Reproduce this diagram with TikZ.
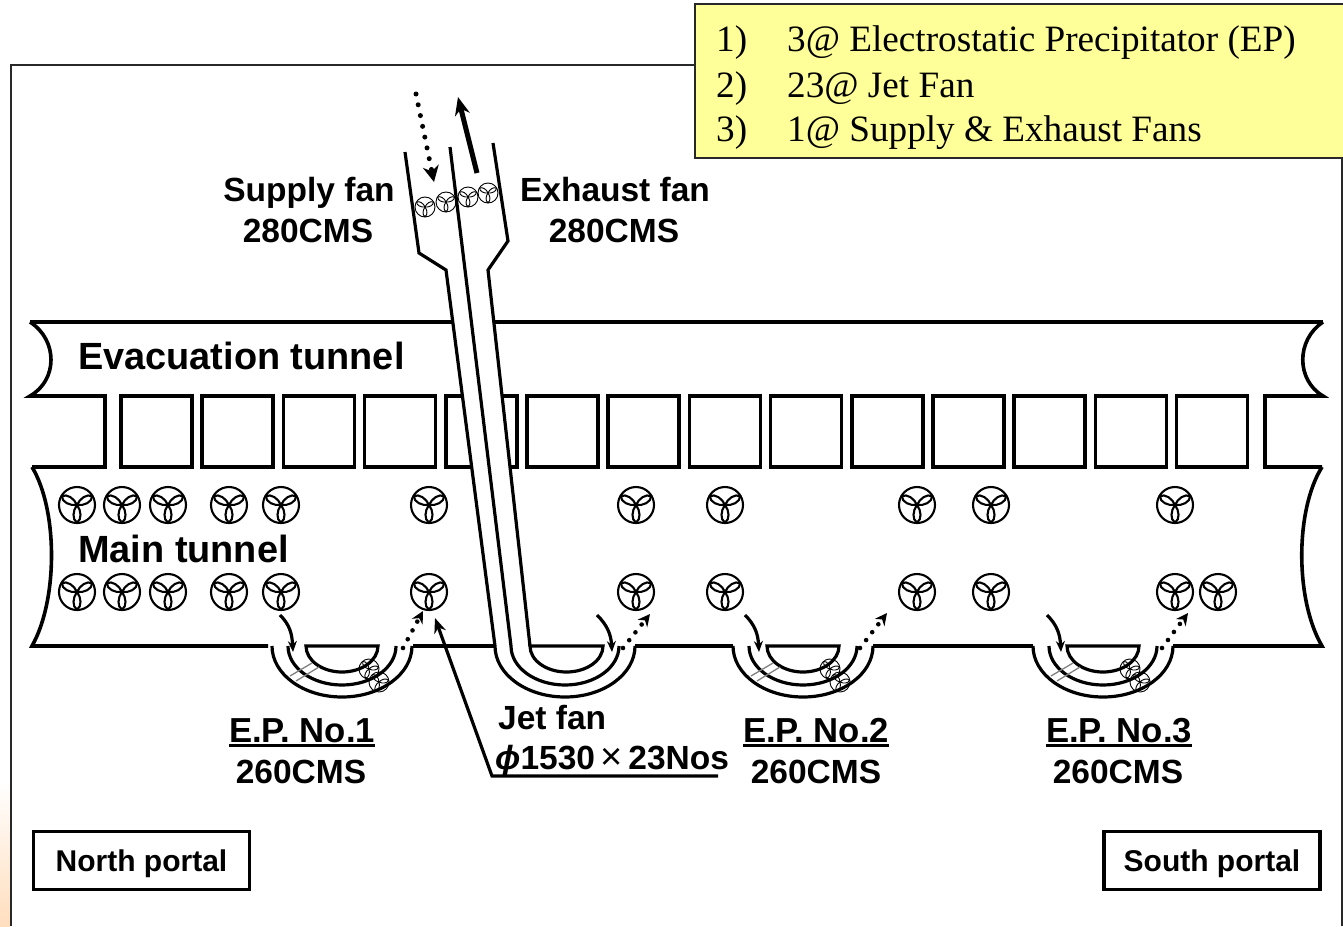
\documentclass[tikz,border=0pt]{standalone}
\usepackage{xcolor}
\usepackage{fontspec}
\usetikzlibrary{arrows.meta}
\setmainfont{Liberation Sans}
\newfontfamily\notefont{Liberation Serif}
\definecolor{noteyellow}{RGB}{255, 255, 153}
\definecolor{framegray}{RGB}{40, 40, 40}
\definecolor{cornerpeach}{RGB}{255, 222, 190}
\begin{document}
\begin{tikzpicture}[
  x=1pt, y=-1pt,
  wall/.style={line width=3.6pt, line join=miter},
  thinwall/.style={line width=3.2pt},
  sealine/.style={line width=1.3pt, gray},
  bigfan/.style={scale=18, line width=2.1pt},
  smallfan/.style={scale=10, line width=.9pt},
  bigtext/.style={font=\fontsize{37.9}{40}\selectfont\bfseries, inner sep=0pt, anchor=base west},
  fanlabel/.style={font=\fontsize{33.5}{36}\selectfont\bfseries, inner sep=0pt, anchor=base},
  portal/.style={draw, line width=3.6pt, minimum width=216pt, minimum height=58pt, inner sep=0pt,
                 font=\fontsize{30}{32}\selectfont\bfseries, text height=22pt, text depth=1pt},
  note/.style={font=\notefont\fontsize{37.2}{40}\selectfont, inner sep=0pt, anchor=base west},
  flowin/.style={-{Stealth[length=11pt, width=9pt]}, line width=3.2pt},
  flowout/.style={-{Stealth[length=12pt, width=12pt]}, line width=4.6pt, line cap=round, dash pattern=on 0pt off 10pt},
  pics/fan/.style={code={
    \draw (0,0) circle[radius=1];
    \foreach \a in {270,30,150}
      \draw[rotate=\a] (0,0) .. controls (.30,.24) and (.82,.28) .. (.97,0)
                             .. controls (.82,-.28) and (.30,-.24) .. (0,0);
  }}
]
  \useasboundingbox (0,0) rectangle (1343,926);

  % outer frame
  \shade[top color=white, bottom color=cornerpeach] (0,780) rectangle (10,926);
  \draw[framegray, line width=2pt] (10.5,926) -- (10.5,65) -- (1342,65) -- (1342,926);

  % tunnels
  \draw[wall] (30,322) -- (1323,322);
  \draw[wall] (30,322) .. controls (58,340) and (58,380) .. (30,396) -- (105,396) -- (105,467) -- (32,467);
  \draw[wall] (1323,322) .. controls (1296,340) and (1296,380) .. (1323,396) -- (1265,396) -- (1265,467) -- (1322,467);
  \draw[wall] (32,467) .. controls (58,510) and (58,600) .. (32,646) -- (268,646);
  \draw[wall] (1322,467) .. controls (1295,510) and (1295,600) .. (1322,646) -- (1173,646);
  \draw[wall] (413,646) -- (495,646);
  \draw[wall] (635,646) -- (733,646);
  \draw[wall] (873,646) -- (1033,646);

  % cross passages
  \foreach \i in {0,...,13}
    \draw[wall] ({121+81.2*\i},396) rectangle ++(71,71);

  % precipitator bays
  \foreach \cx in {342,803,1103} {
    \begin{scope}[shift={(\cx,0)}]
      \draw[thinwall] (-70,646) arc[start angle=180, end angle=0, x radius=70, y radius=51];
      \draw[thinwall] (-54,646) arc[start angle=180, end angle=0, x radius=54, y radius=39];
      \draw[thinwall] (-36,646) arc[start angle=180, end angle=0, x radius=36, y radius=26] -- cycle;
      \draw[sealine] (-52,676) -- (-30,663);
      \draw[sealine] (-46,681) -- (-23,667);
      \pic[smallfan, rotate=-20] at (27,669) {fan};
      \pic[smallfan, rotate=-20] at (37,682) {fan};
    \end{scope}
  }

  % duct
  \fill[white] (446,270) -- (495,646) -- (530,646) -- (488,270) -- cycle;
  \draw[thinwall] (405,152) -- (419,253) -- (446,270) -- (495,646)
                  arc[start angle=180, end angle=0, x radius=70, y radius=51];
  \draw[thinwall] (450,147) -- (511,646)
                  arc[start angle=180, end angle=0, x radius=54, y radius=39];
  \draw[thinwall] (493,143) -- (508,241) -- (488,270) -- (530,646);
  \draw[thinwall] (530,646) arc[start angle=180, end angle=0, x radius=36.5, y radius=26] -- cycle;

  \foreach \px/\py in {425/207,446/202,468/197,488/193}
    \pic[smallfan] at (\px,\py) {fan};

  % jet fans
  \foreach \px in {77,122,168,229,281,429,636,725,917,991,1175} {
    \pic[bigfan] at (\px,505) {fan};
    \pic[bigfan] at (\px,592) {fan};
  }
  \pic[bigfan] at (1218,592) {fan};

  % air flow
  \coordinate (supplyin) at (416,94);
  \coordinate (supplyout) at (434,182);
  \coordinate (exhaustin) at (477,173);
  \coordinate (exhaustout) at (458,97);
  \draw[flowout, -{Stealth[length=16pt, width=16pt]}, line width=5pt, dash pattern=on 0pt off 11pt] (supplyin) -- (supplyout);
  \draw[-{Stealth[length=18pt, width=15pt]}, line width=5pt] (exhaustin) -- (exhaustout);
  \foreach \sx/\tx/\ax/\bx/\ay in {280/293/403/423/611,745/759/860/887/613,597/612/623/650/614,1047/1061/1162/1188/613} {
    \coordinate (inlet) at (\sx,615);
    \coordinate (inbay) at (\tx,652);
    \coordinate (outbay) at (\ax,648);
    \coordinate (outlet) at (\bx,\ay);
    \draw[flowin] (inlet) .. controls +(10,10) and +(-1,-18) .. (inbay);
    \draw[flowout] (outbay) -- (outlet);
  }

  % labels
  \node[bigtext] (evac) at (78,369) {Evacuation tunnel};
  \node[bigtext] (main) at (78,562) {Main tunnel};
  \node[fanlabel] (supply) at (309,201) {Supply fan};
  \node[fanlabel] (supplyflow) at (308,242) {280CMS};
  \node[fanlabel] (exhaust) at (615,201) {Exhaust fan};
  \node[fanlabel] (exhaustflow) at (614,242) {280CMS};

  \foreach \i/\lx/\fx in {1/302/301,2/816/816,3/1119/1118} {
    \node[fanlabel, font=\fontsize{34.7}{36}\selectfont\bfseries] (ep\i) at (\lx,742) {E.P. No.\i};
    \node[fanlabel] (epflow\i) at (\fx,783) {260CMS};
    \draw[line width=2.4pt] ([yshift=-3.5pt]ep\i.base west) -- ([yshift=-3.5pt]ep\i.base east);
  }

  \node[fanlabel, anchor=base west] (jet) at (498,729) {Jet fan};
  \node[fanlabel, anchor=base west] (jetsize) at (495,769) {{\itshape ϕ}1530\,{\mdseries\fontsize{38}{38}\selectfont ×}\,23Nos};
  \coordinate (jetend) at (718,776);
  \coordinate (jetbend) at (492,776);
  \coordinate (jettip) at (435,618);
  \draw[-{Stealth[length=15pt, width=12pt]}, line width=3.2pt] (jetend) -- (jetbend) -- (jettip);

  \node[portal] (north) at (141.5,860.5) {North portal};
  \node[portal] (south) at (1212,860.5) {South portal};

  % list of equipment
  \fill[noteyellow, draw=framegray, line width=2pt] (694.5,4) rectangle (1346,158);
  \node[note] (item1) at (716,51) {1)};
  \node[note] (item2) at (716,97) {2)};
  \node[note] (item3) at (716,141) {3)};
  \node[note] (text1) at (787,51) {3@ Electrostatic Precipitator (EP)};
  \node[note] (text2) at (787,97) {23@ Jet Fan};
  \node[note] (text3) at (787,141) {1@ Supply \& Exhaust Fans};
\end{tikzpicture}
\end{document}
